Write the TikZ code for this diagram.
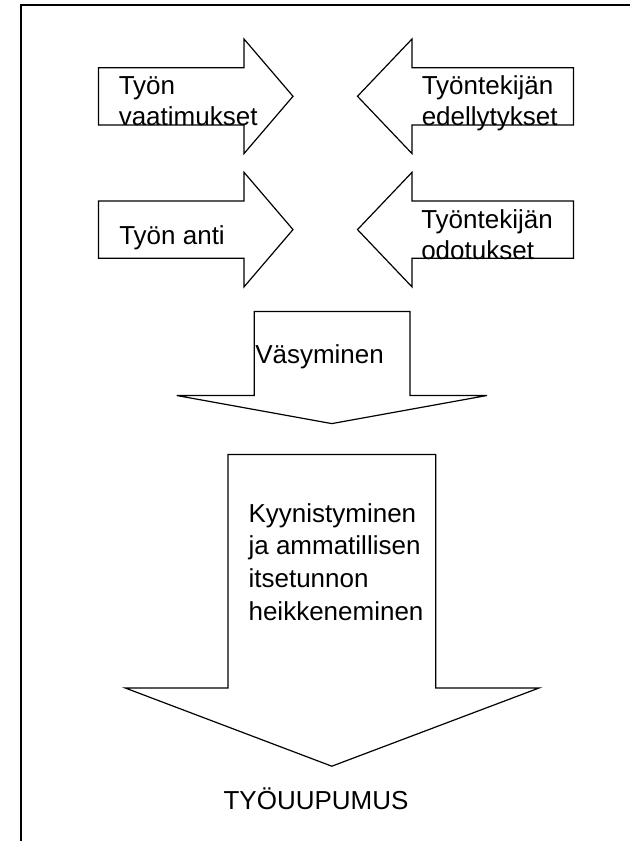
\documentclass[tikz,border=0pt]{standalone}
\usepackage{fontspec}
\setmainfont{Liberation Sans}
\begin{document}
\begin{tikzpicture}[
    x=0.75pt, y=-0.75pt,
    block arrow/.style={draw, line width=0.9pt, line join=miter},
    frame line/.style={draw, line width=1.1pt},
    arrow text/.style={anchor=base west, inner sep=0pt, align=left,
        font=\fontsize{19.5}{23.25}\selectfont},
    ]
\useasboundingbox (0,0) rectangle (630,841);
\draw[frame line] (630,5) -- (21,5) -- (21,841);
% top row (base of a text node = its last line)
\draw[block arrow] (98.5,67.7) -- (244,67.7) -- (244,39) -- (293,96.3) -- (244,153.6) -- (244,125) -- (98.5,125) -- cycle;
\draw[block arrow] (573.5,67.7) -- (412,67.7) -- (412,39) -- (357.5,96.3) -- (412,153.6) -- (412,125) -- (573.5,125) -- cycle;
\node[arrow text] (vaatimukset) at (118.5,126) {Työn\\vaatimukset};
\node[arrow text] (edellytykset) at (421.5,126) {Työntekijän\\edellytykset};
% second row
\draw[block arrow] (98.5,201) -- (244,201) -- (244,172.3) -- (293,229.6) -- (244,286.9) -- (244,258.3) -- (98.5,258.3) -- cycle;
\draw[block arrow] (573.5,201) -- (412,201) -- (412,172.3) -- (357.5,229.6) -- (412,286.9) -- (412,258.3) -- (573.5,258.3) -- cycle;
\node[arrow text] (anti) at (119,245) {Työn anti};
\node[arrow text] (odotukset) at (421,259.3) {Työntekijän\\odotukset};
% downward arrows
\draw[block arrow] (254.2,311.5) -- (410,311.5) -- (410,395.5) -- (487,395.5) -- (331.8,423.6) -- (176.7,395.5) -- (254.2,395.5) -- cycle;
\node[arrow text] (vasyminen) at (255,363.3) {Väsyminen};
\draw[block arrow] (228,454.5) -- (435.7,454.5) -- (435.7,688) -- (539,688) -- (331.8,766.2) -- (125.3,688) -- (228,688) -- cycle;
\node[arrow text, font=\fontsize{19.5}{24.4}\selectfont] (kyynistyminen) at (248.3,620)
    {Kyynistyminen\\ja ammatillisen\\itsetunnon\\heikkeneminen};
\node[arrow text] (tyouupumus) at (223.3,809.3) {TYÖUUPUMUS};
\end{tikzpicture}
\end{document}
